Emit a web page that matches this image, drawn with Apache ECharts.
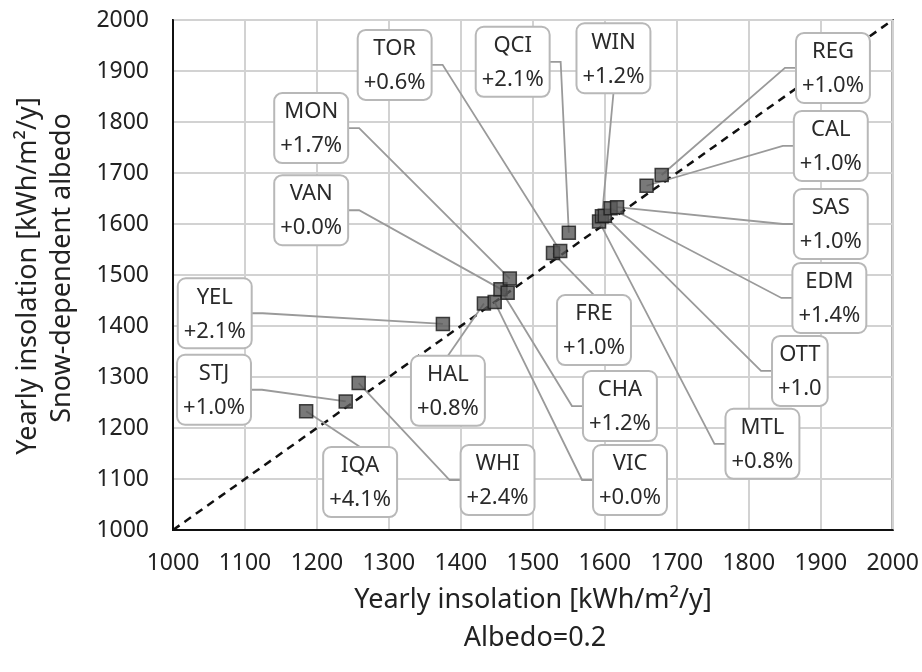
<!DOCTYPE html>
<html>
<head>
<meta charset="utf-8">
<script src="https://cdn.jsdelivr.net/npm/echarts@6/dist/echarts.min.js"></script>
<style>
html,body{margin:0;padding:0;background:#fff;}
#chart{width:922px;height:672px;}
</style>
</head>
<body>
<div id="chart"></div>
<script>
// ---- data ----
const stations = ['IQA','STJ','WHI','YEL','HAL','VIC','CHA','VAN','MON','FRE','TOR','QCI','MTL','WIN','OTT','EDM','SAS','CAL','REG'];
const insolationAlbedo02 = [1185,1240,1258,1375,1432,1447,1455,1465,1468,1528,1538,1550,1592,1596,1600,1608,1617,1658,1679];
const insolationSnowAlbedo = [1233,1252,1288,1404,1444,1447,1472,1465,1493,1543,1547,1583,1605,1615,1616,1631,1633,1675,1696];
const gainLabels = ['+4.1%','+1.0%','+2.4%','+2.1%','+0.8%','+0.0%','+1.2%','+0.0%','+1.7%','+1.0%','+0.6%','+2.1%','+0.8%','+1.2%','+1.0','+1.4%','+1.0%','+1.0%','+1.0%'];
const axisTicks = [1000,1100,1200,1300,1400,1500,1600,1700,1800,1900,2000];
const parityLine = [[1000,1000],[2000,2000]];

// ---- callout layout: box centres (axis units) and side the leader leaves from ----
const calloutX = [1260,1057,1451,1058,1382,1635,1621,1192,1192,1585,1308,1472,1819,1612,1871,1912,1914,1914,1917];
const calloutY = [1094,1275,1098,1425,1273,1098,1243,1627,1788,1392,1912,1918,1169,1925,1312,1455,1600,1753,1906];
const calloutSide = ['T','R','L','R','T','L','L','R','R','T','R','R','L','B','L','L','L','L','L'];

const FONT = '"Noto Sans", "Open Sans", sans-serif';
const measureCtx = document.createElement('canvas').getContext('2d');
measureCtx.font = '22px "Noto Sans"';
function textW(s){ return measureCtx.measureText(s).width; }

const chart = echarts.init(document.getElementById('chart'), null, {renderer:'canvas'});

function renderCallout(params, api){
  const i = api.value(4);
  const p = api.coord([api.value(0), api.value(1)]);
  const c = api.coord([api.value(2), api.value(3)]);
  const w = Math.max(textW(stations[i]), textW(gainLabels[i])) + 12;
  const h = 70;
  const side = calloutSide[i];
  let pts;
  if (side === 'R' || side === 'L') {
    const s = side === 'R' ? 1 : -1;
    const sx = c[0] + s*w/2;
    pts = [[sx, c[1]], [sx + s*11, c[1]], p];
  } else {
    const s = side === 'B' ? 1 : -1;
    pts = [[c[0], c[1] + s*h/2], p];
  }
  return {
    type:'group',
    children:[
      {type:'polyline', z2:1, shape:{points:pts}, style:{stroke:'#9a9a9a', lineWidth:1.8, fill:null}},
      {type:'rect', z2:2, shape:{x:c[0]-w/2, y:c[1]-h/2, width:w, height:h, r:8}, style:{fill:'#fff', stroke:'#b8b8b8', lineWidth:2}},
      {type:'text', z2:3, x:c[0], y:c[1]+1, style:{text: stations[i] + '\n' + gainLabels[i], align:'center', verticalAlign:'middle', fontSize:22, fontFamily:FONT, lineHeight:34, fill:'#2a2a2a'}}
    ]
  };
}

const axisCommon = {
  type:'value', min:1000, max:2000, interval:100,
  axisLine:{show:true, onZero:false, lineStyle:{color:'#111', width:2}},
  axisTick:{show:false},
  splitLine:{show:true, lineStyle:{color:'#d2d2d2', width:2}},
  axisLabel:{fontSize:23, fontFamily:FONT, color:'#222'}
};

chart.setOption({
  animation:false,
  backgroundColor:'#fff',
  grid:{left:173, right:29, top:20, bottom:142, show:true, borderColor:'#111', borderWidth:2, backgroundColor:'transparent'},
  xAxis:Object.assign({}, axisCommon, {axisLabel:Object.assign({}, axisCommon.axisLabel, {margin:22, formatter:(v)=>axisTicks.includes(v)?String(v):''})}),
  yAxis:Object.assign({}, axisCommon, {axisLabel:Object.assign({}, axisCommon.axisLabel, {margin:24, formatter:(v)=>axisTicks.includes(v)?String(v):''})}),
  graphic:[
    {type:'text', x:28, y:276, rotation:Math.PI/2, style:{text:'Yearly insolation [kWh/m²/y]', align:'center', verticalAlign:'middle', fontSize:27, fontFamily:FONT, fill:'#222'}},
    {type:'text', x:62, y:268, rotation:Math.PI/2, style:{text:'Snow-dependent albedo', align:'center', verticalAlign:'middle', fontSize:27, fontFamily:FONT, fill:'#222'}},
    {type:'text', x:533, y:600, style:{text:'Yearly insolation [kWh/m²/y]', align:'center', verticalAlign:'middle', fontSize:27, fontFamily:FONT, fill:'#222'}},
    {type:'text', x:535, y:638, style:{text:'Albedo=0.2', align:'center', verticalAlign:'middle', fontSize:27, fontFamily:FONT, fill:'#222'}}
  ],
  series:[
    {
      type:'line', z:1, data:parityLine, showSymbol:false, silent:true,
      lineStyle:{color:'#111', width:2.5, type:[8,6]}
    },
    {
      type:'custom', z:2, renderItem:renderCallout, clip:false,
      encode:{x:[0,2], y:[1,3]},
      data:stations.map((s,i)=>[insolationAlbedo02[i], insolationSnowAlbedo[i], calloutX[i], calloutY[i], i])
    },
    {
      type:'scatter', z:5, symbol:'rect', symbolSize:13,
      itemStyle:{color:'#585858', borderColor:'#1a1a1a', borderWidth:1.5},
      data:stations.map((s,i)=>[insolationAlbedo02[i], insolationSnowAlbedo[i]])
    }
  ]
});
</script>
</body>
</html>
